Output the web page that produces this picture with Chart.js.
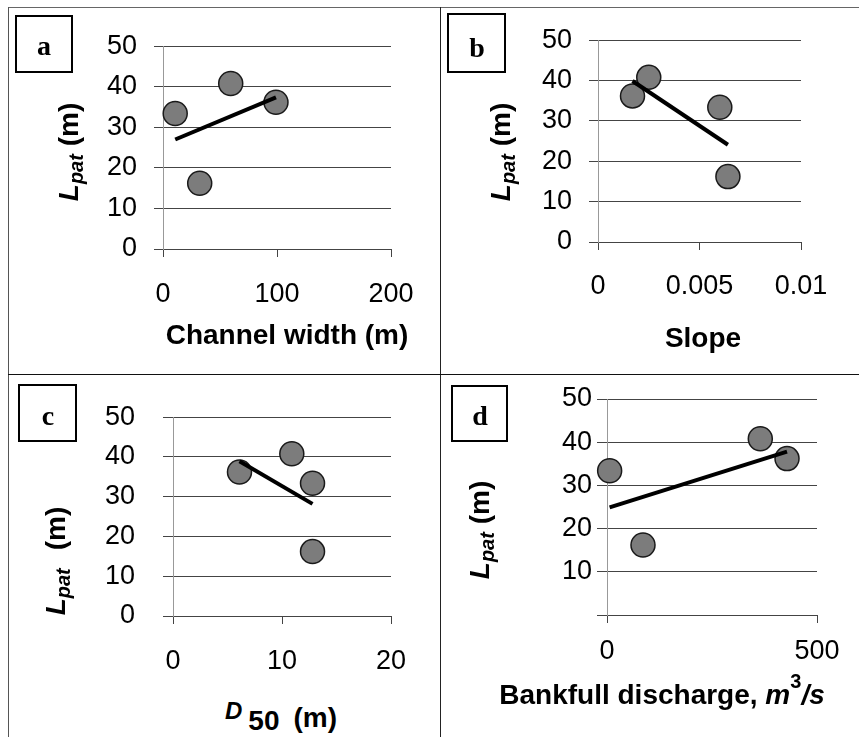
<!DOCTYPE html>
<html>
<head>
<meta charset="utf-8">
<script src="https://cdn.jsdelivr.net/npm/chart.js@4.4.1/dist/chart.umd.min.js"></script>
<style>
  body { margin: 0; background: #fff; }
  #page { position: relative; width: 859px; height: 737px; overflow: hidden; background: #fff; font-family: "Liberation Sans", Arial, sans-serif; }
  canvas { position: absolute; }
  .rule { position: absolute; background: #333; }
  .box { position: absolute; border: 2px solid #000; box-sizing: border-box; }
  .letter { position: absolute; transform: translateX(-50%); font: bold 28px/28px "Liberation Serif", "Times New Roman", serif; color: #000; }
  .xt { position: absolute; transform: translateX(-50%); font-weight: bold; font-size: 28px; line-height: 28px; white-space: nowrap; color: #000; }
  .yt { position: absolute; transform: translate(-50%, -50%) rotate(-90deg); font-weight: bold; font-size: 28px; line-height: 28px; white-space: nowrap; color: #000; }
  .it { font-style: italic; }
  .sub { font-style: italic; font-size: 20px; position: relative; top: 5px; }
</style>
</head>
<body>
<div id="page">
  <div class="rule" style="left:8px;top:7px;width:851px;height:1px;background:#666"></div>
  <div class="rule" style="left:8px;top:7px;width:1px;height:730px;background:#555"></div>
  <div class="rule" style="left:440px;top:7px;width:1px;height:730px;background:#222"></div>
  <div class="rule" style="left:8px;top:374px;width:851px;height:1px;background:#111"></div>

  <canvas id="chartA"></canvas>
  <canvas id="chartB"></canvas>
  <canvas id="chartC"></canvas>
  <canvas id="chartD"></canvas>

  <div class="box" style="left:15px;top:15px;width:58px;height:58px"></div>
  <div class="letter" style="left:44px;top:32px">a</div>
  <div class="box" style="left:447px;top:13px;width:59px;height:60px"></div>
  <div class="letter" style="left:477px;top:34px">b</div>
  <div class="box" style="left:18px;top:384px;width:59px;height:58px"></div>
  <div class="letter" style="left:48px;top:402px">c</div>
  <div class="box" style="left:451px;top:385px;width:57px;height:57px"></div>
  <div class="letter" style="left:480px;top:402px">d</div>

  <div class="xt" style="left:287px;top:321px">Channel width (m)</div>
  <div class="xt" style="left:703px;top:324px">Slope</div>
  <div class="xt" style="left:281px;top:704px"><span class="it" style="font-size:24px;position:relative;top:-8px">D</span><span style="position:relative;top:3px;margin-left:6px">50</span><span style="margin-left:14px">(m)</span></div>
  <div class="xt" style="left:662px;top:681px">Bankfull discharge, <span class="it">m</span><span style="font-size:20px;position:relative;top:-16px">3</span><span class="it">/s</span></div>

  <div class="yt" style="left:70px;top:152px"><span class="it">L</span><span class="sub">pat</span> (m)</div>
  <div class="yt" style="left:502px;top:152px"><span class="it">L</span><span class="sub">pat</span> (m)</div>
  <div class="yt" style="left:57px;top:561px"><span class="it">L</span><span class="sub">pat</span><span style="margin-left:18px">(m)</span></div>
  <div class="yt" style="left:481px;top:530px"><span class="it">L</span><span class="sub">pat</span> (m)</div>
</div>

<script>
// same four reaches in every panel, L_pat in metres
const lpat = [33.4, 16.2, 40.8, 36.2];
const channelWidth = [10.7, 32.2, 59.4, 99.1];
const slope = [0.0060, 0.0064, 0.0025, 0.0017];
const d50 = [12.8, 12.8, 10.9, 6.1];
const bankfullQ = [6.3, 85.7, 365, 428.6];

// trend line end points
const trendWidthX = [10.7, 99.1], trendWidthY = [27.0, 37.4];
const trendSlopeX = [0.0017, 0.0064], trendSlopeY = [39.9, 24.1];
const trendD50X = [6.1, 12.8], trendD50Y = [38.9, 28.2];
const trendQX = [6.3, 428.6], trendQY = [24.9, 37.8];

// tick labels
const xTicksA = ['0', '100', '200'];
const xTicksB = ['0', '0.005', '0.01'];
const xTicksC = ['0', '10', '20'];
const xTicksD = ['0', '500'];

const YW = 120, PT = 25, PR = 50, XH = 80;
const tickFont = {family: '"Liberation Sans", Arial, sans-serif', size: 27};

function pts(xs, ys) { return xs.map((x, i) => ({x: x, y: ys[i]})); }

function panel(id, area, o) {
  const cv = document.getElementById(id);
  cv.width = YW + area.r - area.l + PR;
  cv.height = PT + area.b - area.t + XH;
  cv.style.left = (area.l - YW) + 'px';
  cv.style.top = (area.t - PT) + 'px';
  new Chart(cv, {
    type: 'scatter',
    data: {
      datasets: [
        {type: 'line', data: pts(o.trendX, o.trendY), borderColor: '#000', borderWidth: 4, pointRadius: 0, fill: false, order: 0, clip: false},
        {data: pts(o.xs, lpat), backgroundColor: '#7c7c7c', borderColor: '#1a1a1a', borderWidth: 1.5, pointRadius: 12, order: 1, clip: false}
      ]
    },
    options: {
      responsive: false, animation: false, events: [],
      layout: {padding: {top: PT, right: PR, left: 0, bottom: 0}},
      plugins: {legend: {display: false}, tooltip: {enabled: false}},
      scales: {
        x: {type: 'linear', min: o.xMin, max: o.xMax,
            ticks: {stepSize: o.step, autoSkip: false, maxRotation: 0, padding: o.xPad, color: '#000', font: tickFont,
                    callback: (v, i) => o.xLabels[i]},
            grid: {drawOnChartArea: false, drawTicks: true, tickLength: 8, color: '#444'},
            border: {display: true, color: '#444'},
            afterFit: s => { s.height = XH; }},
        y: {min: 0, max: 50,
            ticks: {stepSize: 10, padding: o.yPad, color: '#000', font: tickFont,
                    callback: v => (o.hideZero && v === 0) ? '' : String(v)},
            grid: {color: '#444', tickLength: o.yTick},
            border: {display: true, color: '#999'},
            afterFit: s => { s.width = YW; }}
      }
    }
  });
}

panel('chartA', {l: 163, t: 38, r: 391, b: 249},
  {xs: channelWidth, trendX: trendWidthX, trendY: trendWidthY, xMin: 0, xMax: 200, step: 100, xLabels: xTicksA, xPad: 21, yPad: 17, yTick: 9});
panel('chartB', {l: 598, t: 32, r: 801, b: 242},
  {xs: slope, trendX: trendSlopeX, trendY: trendSlopeY, xMin: 0, xMax: 0.01, step: 0.005, xLabels: xTicksB, xPad: 20, yPad: 17, yTick: 9});
panel('chartC', {l: 173, t: 398, r: 391, b: 616},
  {xs: d50, trendX: trendD50X, trendY: trendD50Y, xMin: 0, xMax: 20, step: 10, xLabels: xTicksC, xPad: 21, yPad: 28, yTick: 10});
panel('chartD', {l: 607, t: 399, r: 817, b: 615},
  {xs: bankfullQ, trendX: trendQX, trendY: trendQY, xMin: 0, xMax: 500, step: 500, xLabels: xTicksD, xPad: 12, yPad: 5, yTick: 10, hideZero: true});
</script>
</body>
</html>
